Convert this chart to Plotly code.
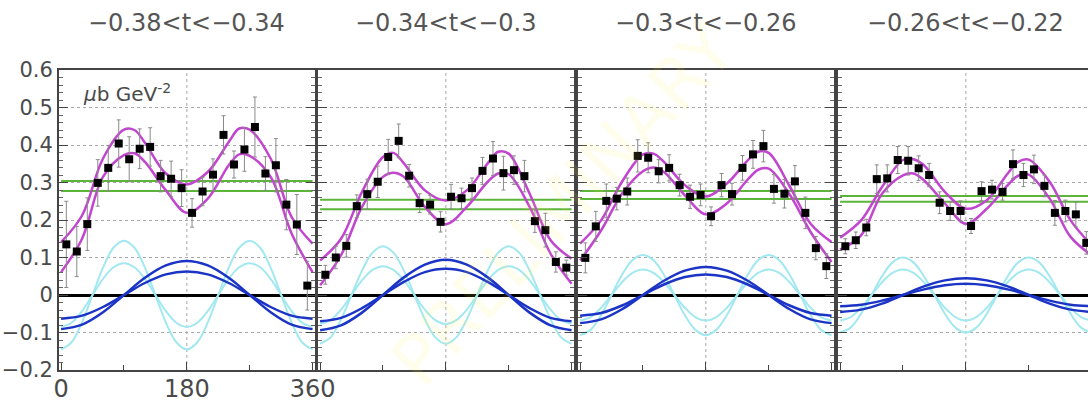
import plotly.graph_objects as go

# ---------------- data ----------------
PANEL_TITLES = ["−0.38&lt;t&lt;−0.34", "−0.34&lt;t&lt;−0.3", "−0.3&lt;t&lt;−0.26", "−0.26&lt;t&lt;−0.22"]

PHI_BINS = [7.5, 22.5, 37.5, 52.5, 67.5, 82.5, 97.5, 112.5, 127.5, 142.5, 157.5, 172.5,
            187.5, 202.5, 217.5, 232.5, 247.5, 262.5, 277.5, 292.5, 307.5, 322.5, 337.5, 352.5]

P1_Y = [0.135, 0.116, 0.189, 0.299, 0.339, 0.404, 0.362, 0.390, 0.395, 0.317, 0.310, 0.285,
        0.219, 0.276, 0.321, 0.427, 0.348, 0.388, 0.448, 0.324, 0.346, 0.241, 0.188, 0.025]
P1_ERR = [0.115, 0.067, 0.070, 0.062, 0.060, 0.063, 0.060, 0.053, 0.051, 0.042, 0.047, 0.049,
          0.038, 0.038, 0.042, 0.051, 0.036, 0.058, 0.080, 0.045, 0.071, 0.067, 0.080, 0.065]
P2_Y = [0.054, 0.100, 0.131, 0.237, 0.269, 0.302, 0.368, 0.411, 0.318, 0.245, 0.241, 0.195,
        0.262, 0.258, 0.285, 0.331, 0.364, 0.325, 0.333, 0.317, 0.197, 0.173, 0.088, 0.073]
P2_ERR = [0.025, 0.030, 0.030, 0.030, 0.040, 0.042, 0.047, 0.045, 0.030, 0.025, 0.025, 0.027,
          0.033, 0.027, 0.027, 0.036, 0.045, 0.045, 0.038, 0.042, 0.030, 0.045, 0.027, 0.020]
P3_Y = [0.099, 0.183, 0.251, 0.257, 0.276, 0.371, 0.366, 0.330, 0.339, 0.293, 0.262, 0.267,
        0.210, 0.293, 0.269, 0.339, 0.375, 0.397, 0.283, 0.270, 0.303, 0.219, 0.125, 0.077]
P3_ERR = [0.040, 0.040, 0.045, 0.030, 0.036, 0.043, 0.040, 0.031, 0.035, 0.029, 0.031, 0.029,
          0.025, 0.031, 0.029, 0.033, 0.037, 0.042, 0.038, 0.038, 0.042, 0.042, 0.031, 0.033]
P4_Y = [0.130, 0.146, 0.180, 0.309, 0.311, 0.360, 0.358, 0.338, 0.320, 0.246, 0.224, 0.224,
        0.184, 0.277, 0.281, 0.275, 0.349, 0.320, 0.335, 0.291, 0.219, 0.224, 0.215, 0.139]
P4_ERR = [0.020, 0.022, 0.022, 0.038, 0.036, 0.036, 0.038, 0.033, 0.031, 0.029, 0.025, 0.027,
          0.020, 0.025, 0.025, 0.022, 0.038, 0.031, 0.038, 0.029, 0.033, 0.029, 0.033, 0.030]

# total fit curves (magenta), read at these angles
MAG_PHI = [0, 30, 60, 90, 105, 120, 150, 180, 210, 240, 255, 270, 300, 330, 360]
P1_MAG_HI = [0.141, 0.212, 0.364, 0.441, 0.440, 0.406, 0.324, 0.295, 0.328, 0.408, 0.444, 0.441, 0.364, 0.208, 0.137]
P1_MAG_LO = [0.061, 0.150, 0.315, 0.373, 0.378, 0.355, 0.279, 0.219, 0.257, 0.346, 0.375, 0.371, 0.315, 0.164, 0.061]
P2_MAG_HI = [0.092, 0.150, 0.275, 0.368, 0.379, 0.351, 0.279, 0.252, 0.279, 0.351, 0.382, 0.377, 0.270, 0.146, 0.097]
P2_MAG_LO = [0.026, 0.106, 0.235, 0.315, 0.326, 0.315, 0.235, 0.189, 0.235, 0.302, 0.324, 0.322, 0.235, 0.110, 0.030]
P3_MAG_HI = [0.137, 0.199, 0.302, 0.375, 0.377, 0.355, 0.293, 0.263, 0.297, 0.359, 0.382, 0.379, 0.290, 0.190, 0.141]
P3_MAG_LO = [0.092, 0.172, 0.270, 0.330, 0.340, 0.328, 0.266, 0.215, 0.244, 0.308, 0.334, 0.337, 0.268, 0.168, 0.088]
P4_MAG_HI = [0.153, 0.199, 0.288, 0.360, 0.362, 0.346, 0.275, 0.230, 0.253, 0.324, 0.355, 0.361, 0.302, 0.199, 0.133]
P4_MAG_LO = [0.121, 0.159, 0.270, 0.319, 0.324, 0.306, 0.244, 0.190, 0.230, 0.293, 0.318, 0.321, 0.257, 0.155, 0.106]

# constant terms (green)
P1_GREEN = [0.304, 0.277]
P2_GREEN = [0.254, 0.229]
P3_GREEN = [0.277, 0.256]
P4_GREEN = [0.264, 0.249]
GREEN_PHI = [0, 360]

# cos(2phi) terms (cyan)
CYAN_PHI = [0, 15, 30, 45, 60, 75, 90, 105, 120, 135, 150, 165, 180,
            195, 210, 225, 240, 255, 270, 285, 300, 315, 330, 345, 360]
P1_CYAN_HI = [-0.145, -0.126, -0.073, 0, 0.073, 0.126, 0.145, 0.126, 0.073, 0, -0.073, -0.126, -0.145,
              -0.126, -0.073, 0, 0.073, 0.126, 0.145, 0.126, 0.073, 0, -0.073, -0.126, -0.145]
P1_CYAN_LO = [-0.085, -0.074, -0.043, 0, 0.043, 0.074, 0.085, 0.074, 0.043, 0, -0.043, -0.074, -0.085,
              -0.074, -0.043, 0, 0.043, 0.074, 0.085, 0.074, 0.043, 0, -0.043, -0.074, -0.085]
P2_CYAN_HI = [-0.130, -0.113, -0.065, 0, 0.065, 0.113, 0.130, 0.113, 0.065, 0, -0.065, -0.113, -0.130,
              -0.113, -0.065, 0, 0.065, 0.113, 0.130, 0.113, 0.065, 0, -0.065, -0.113, -0.130]
P2_CYAN_LO = [-0.077, -0.067, -0.039, 0, 0.039, 0.067, 0.077, 0.067, 0.039, 0, -0.039, -0.067, -0.077,
              -0.067, -0.039, 0, 0.039, 0.067, 0.077, 0.067, 0.039, 0, -0.039, -0.067, -0.077]
P3_CYAN_HI = [-0.107, -0.093, -0.054, 0, 0.054, 0.093, 0.107, 0.093, 0.054, 0, -0.054, -0.093, -0.107,
              -0.093, -0.054, 0, 0.054, 0.093, 0.107, 0.093, 0.054, 0, -0.054, -0.093, -0.107]
P3_CYAN_LO = [-0.068, -0.059, -0.034, 0, 0.034, 0.059, 0.068, 0.059, 0.034, 0, -0.034, -0.059, -0.068,
              -0.059, -0.034, 0, 0.034, 0.059, 0.068, 0.059, 0.034, 0, -0.034, -0.059, -0.068]
P4_CYAN_HI = [-0.100, -0.087, -0.050, 0, 0.050, 0.087, 0.100, 0.087, 0.050, 0, -0.050, -0.087, -0.100,
              -0.087, -0.050, 0, 0.050, 0.087, 0.100, 0.087, 0.050, 0, -0.050, -0.087, -0.100]
P4_CYAN_LO = [-0.068, -0.059, -0.034, 0, 0.034, 0.059, 0.068, 0.059, 0.034, 0, -0.034, -0.059, -0.068,
              -0.059, -0.034, 0, 0.034, 0.059, 0.068, 0.059, 0.034, 0, -0.034, -0.059, -0.068]

# cos(phi) terms (blue)
BLUE_PHI = [0, 30, 60, 90, 120, 150, 180, 210, 240, 270, 300, 330, 360]
P1_BLUE_HI = [-0.091, -0.079, -0.046, 0, 0.046, 0.079, 0.091, 0.079, 0.046, 0, -0.046, -0.079, -0.091]
P1_BLUE_LO = [-0.063, -0.055, -0.032, 0, 0.032, 0.055, 0.063, 0.055, 0.032, 0, -0.032, -0.055, -0.063]
P2_BLUE_HI = [-0.094, -0.081, -0.047, 0, 0.047, 0.081, 0.094, 0.081, 0.047, 0, -0.047, -0.081, -0.094]
P2_BLUE_LO = [-0.070, -0.061, -0.035, 0, 0.035, 0.061, 0.070, 0.061, 0.035, 0, -0.035, -0.061, -0.070]
P3_BLUE_HI = [-0.075, -0.065, -0.038, 0, 0.038, 0.065, 0.075, 0.065, 0.038, 0, -0.038, -0.065, -0.075]
P3_BLUE_LO = [-0.055, -0.048, -0.028, 0, 0.028, 0.048, 0.055, 0.048, 0.028, 0, -0.028, -0.048, -0.055]
P4_BLUE_HI = [-0.045, -0.039, -0.023, 0, 0.023, 0.039, 0.045, 0.039, 0.023, 0, -0.023, -0.039, -0.045]
P4_BLUE_LO = [-0.030, -0.026, -0.015, 0, 0.015, 0.026, 0.030, 0.026, 0.015, 0, -0.015, -0.026, -0.030]

X_TICKS = [0, 180, 360]
X_MINOR = [90, 270]
Y_RANGE = [-0.2, 0.6]

PANELS = [
    dict(y=P1_Y, err=P1_ERR, mag=(P1_MAG_HI, P1_MAG_LO), green=P1_GREEN,
         cyan=(P1_CYAN_HI, P1_CYAN_LO), blue=(P1_BLUE_HI, P1_BLUE_LO)),
    dict(y=P2_Y, err=P2_ERR, mag=(P2_MAG_HI, P2_MAG_LO), green=P2_GREEN,
         cyan=(P2_CYAN_HI, P2_CYAN_LO), blue=(P2_BLUE_HI, P2_BLUE_LO)),
    dict(y=P3_Y, err=P3_ERR, mag=(P3_MAG_HI, P3_MAG_LO), green=P3_GREEN,
         cyan=(P3_CYAN_HI, P3_CYAN_LO), blue=(P3_BLUE_HI, P3_BLUE_LO)),
    dict(y=P4_Y, err=P4_ERR, mag=(P4_MAG_HI, P4_MAG_LO), green=P4_GREEN,
         cyan=(P4_CYAN_HI, P4_CYAN_LO), blue=(P4_BLUE_HI, P4_BLUE_LO)),
]

# ---------------- layout geometry (pixels) ----------------
W, H = 1088, 402
ML, MT, MB = 59, 70, 32
PLOT_W = W - ML
FRAMES = [(59, 315), (318, 574), (578, 834), (838, 1094)]
X_PAD_LO, X_PAD_HI = -3.0, 363.5

FONT = "DejaVu Sans"
GREY_TXT = "#4a4a4a"
C_MAG = "#C245CF"
C_GREEN = "#5DB43A"
C_CYAN = "#A2E8F0"
C_BLUE = "#1B34C6"

fig = go.Figure()

for k, p in enumerate(PANELS):
    xa = "x" if k == 0 else f"x{k+1}"
    ya = "y" if k == 0 else f"y{k+1}"
    for gv in p["green"]:
        fig.add_trace(go.Scatter(x=GREEN_PHI, y=[gv, gv], mode="lines",
                                 line=dict(color=C_GREEN, width=2), xaxis=xa, yaxis=ya,
                                 showlegend=False, hoverinfo="skip"))
    for cv in p["cyan"]:
        fig.add_trace(go.Scatter(x=CYAN_PHI, y=cv, mode="lines",
                                 line=dict(color=C_CYAN, width=2, shape="spline", smoothing=1.0),
                                 xaxis=xa, yaxis=ya, showlegend=False, hoverinfo="skip"))
    for bv in p["blue"]:
        fig.add_trace(go.Scatter(x=BLUE_PHI, y=bv, mode="lines",
                                 line=dict(color=C_BLUE, width=2.5, shape="spline", smoothing=1.0),
                                 xaxis=xa, yaxis=ya, showlegend=False, hoverinfo="skip"))
    for mv in p["mag"]:
        fig.add_trace(go.Scatter(x=MAG_PHI, y=mv, mode="lines",
                                 line=dict(color=C_MAG, width=2.5, shape="spline", smoothing=1.0),
                                 xaxis=xa, yaxis=ya, showlegend=False, hoverinfo="skip"))
    fig.add_trace(go.Scatter(x=PHI_BINS, y=p["y"], mode="markers",
                             marker=dict(symbol="square", size=8, color="black"),
                             error_y=dict(type="data", array=p["err"], color="#8a8a8a",
                                          thickness=1, width=2),
                             xaxis=xa, yaxis=ya, showlegend=False))

layout = dict(
    width=W, height=H,
    margin=dict(l=ML, r=0, t=MT, b=MB, pad=0, autoexpand=False),
    paper_bgcolor="white", plot_bgcolor="white",
    font=dict(family=FONT, color=GREY_TXT),
    annotations=[], shapes=[],
)

for k in range(4):
    left, right = FRAMES[k]
    d0 = (left - ML) / PLOT_W
    d1 = min(1.0, (right - ML) / PLOT_W)
    span = X_PAD_HI - X_PAD_LO
    xr_hi = X_PAD_LO + span * (min(right, W) - left) / (right - left)
    xkey = "xaxis" if k == 0 else f"xaxis{k+1}"
    ykey = "yaxis" if k == 0 else f"yaxis{k+1}"
    xa = "x" if k == 0 else f"x{k+1}"
    ya = "y" if k == 0 else f"y{k+1}"
    layout[xkey] = dict(
        domain=[d0, d1], range=[X_PAD_LO, xr_hi], anchor=ya, automargin=False,
        tickmode="array", tickvals=X_TICKS, ticktext=[str(v) for v in X_TICKS],
        showticklabels=(k == 0), ticks="inside", ticklen=8, tickwidth=1, tickcolor="#444",
        ticklabelstandoff=-4,
        minor=dict(tickmode="array", tickvals=X_MINOR, ticks="inside", ticklen=5,
                   tickcolor="#444", showgrid=False),
        showline=True, linecolor="#444", linewidth=2, mirror=True,
        showgrid=False, zeroline=False,
        tickfont=dict(family=FONT, size=24, color=GREY_TXT),
    )
    layout[ykey] = dict(
        domain=[0, 1], range=Y_RANGE, anchor=xa, automargin=False,
        tickmode="linear", tick0=0, dtick=0.1,
        showticklabels=(k == 0), ticks="inside", ticklen=9, tickwidth=1, tickcolor="#444",
        minor=dict(dtick=0.02, tick0=0, ticks="inside", ticklen=4, tickcolor="#666",
                   showgrid=False),
        showline=True, linecolor="#444", linewidth=2,
        mirror=("ticks" if k < 3 else False),
        showgrid=True, gridcolor="#a8a8a8", gridwidth=1, griddash="dot",
        zeroline=True, zerolinecolor="black", zerolinewidth=3,
        tickfont=dict(family=FONT, size=21, color=GREY_TXT),
    )
    # vertical dotted grid at 180 deg
    layout["shapes"].append(dict(type="line", xref=xa, yref=f"{ya} domain",
                                 x0=180, x1=180, y0=0, y1=1, layer="below",
                                 line=dict(color="#a8a8a8", width=1, dash="dot")))
    layout["annotations"].append(dict(
        text=PANEL_TITLES[k], xref=xa, yref="paper", x=180, y=(H - MB - 23) / (H - MT - MB),
        xanchor="center", yanchor="middle", showarrow=False,
        font=dict(family=FONT, size=24, color="#555555")))

layout["annotations"].append(dict(
    text="<i>μ</i>b GeV<sup>-2</sup>", xref="x", yref="y", x=29, y=0.54,
    xanchor="left", yanchor="middle", showarrow=False,
    font=dict(family=FONT, size=20, color=GREY_TXT)))

layout["annotations"].append(dict(
    text="PRELIMINARY", xref="paper", yref="paper", x=0.49, y=0.55,
    xanchor="center", yanchor="middle", showarrow=False, textangle=-47,
    font=dict(family=FONT, size=70, color="rgba(255,236,80,0.11)")))

fig.update_layout(**layout)
fig.write_html("out.html")
